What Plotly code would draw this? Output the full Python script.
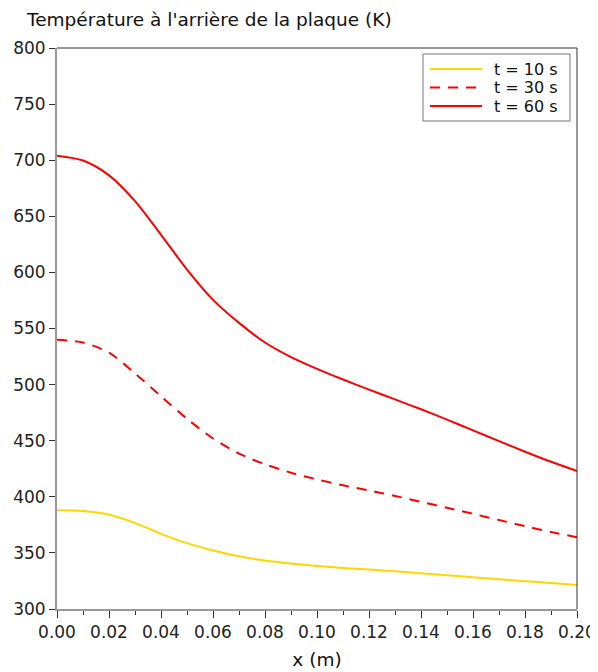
import plotly.graph_objects as go

x_m = [0.00, 0.01, 0.02, 0.03, 0.04, 0.05, 0.06, 0.07, 0.08, 0.09, 0.10,
       0.11, 0.12, 0.13, 0.14, 0.15, 0.16, 0.17, 0.18, 0.19, 0.20]
T_10s = [388, 387.3, 384, 376.8, 367, 358.7, 352.2, 347, 343.2, 340.5, 338.3,
         336.6, 335.1, 333.6, 331.8, 330, 328.2, 326.5, 324.8, 323.2, 321.5]
T_30s = [540, 537.5, 528.5, 510, 489.5, 469.5, 452, 438.5, 429, 421.5, 415.5,
         410.3, 405.6, 400.8, 395.5, 390.2, 384.8, 379.3, 373.8, 368.6, 364]
T_60s = [704, 699.7, 686.5, 663.5, 633.5, 602.5, 575.5, 555, 537.5, 524.5, 514,
         504.5, 495.5, 486.8, 478, 468.8, 459.2, 449.6, 440.2, 431.2, 423]

series_names = ["t = 10 s", "t = 30 s", "t = 60 s"]
series_colors = ["#FFD700", "#FF0000", "#FF0000"]
series_dash = ["solid", "10px,8px", "solid"]
x_ticks = [0.00, 0.02, 0.04, 0.06, 0.08, 0.10, 0.12, 0.14, 0.16, 0.18, 0.20]
y_ticks = [300, 350, 400, 450, 500, 550, 600, 650, 700, 750, 800]

FONT = "DejaVu Sans"
OFF = 8  # page body margin offset
W, H = 598 - OFF, 672 - OFF
ML, MR, MT, MB = 57 - OFF, 21, 48 - OFF, 63
PW, PH = W - ML - MR, H - MT - MB


def px(xp):
    return (xp - OFF - ML) / PW


def py(yp):
    return (H - MB - (yp - OFF)) / PH


fig = go.Figure()
for name, ys, col, dash in zip(series_names, [T_10s, T_30s, T_60s], series_colors, series_dash):
    fig.add_trace(go.Scatter(x=x_m, y=ys, mode="lines", name=name, showlegend=False,
                             line=dict(color=col, width=2, dash=dash, shape="spline", smoothing=0.8)))

shapes = [
    dict(type="line", xref="paper", yref="paper", x0=0, x1=1, y0=1, y1=1,
         line=dict(color="#333", width=1)),
    dict(type="line", xref="paper", yref="paper", x0=1, x1=1, y0=0, y1=1,
         line=dict(color="#333", width=1)),
    dict(type="rect", xref="paper", yref="paper", x0=px(423), x1=px(570), y0=py(121), y1=py(54),
         line=dict(color="#777", width=1), fillcolor="white", layer="above"),
]
annotations = []
rows = [69, 87.5, 106]
for name, col, dash, ry in zip(series_names, series_colors, series_dash, rows):
    shapes.append(dict(type="line", xref="paper", yref="paper", x0=px(430), x1=px(482),
                       y0=py(ry), y1=py(ry), layer="above",
                       line=dict(color=col, width=2, dash=dash)))
    annotations.append(dict(text=name, xref="paper", yref="paper", x=px(492), y=py(ry),
                            xanchor="left", yanchor="middle", showarrow=False,
                            font=dict(family=FONT, size=16, color="#111")))

fig.update_layout(
    width=W, height=H,
    margin=dict(l=ML, r=MR, t=MT, b=MB),
    paper_bgcolor="white", plot_bgcolor="white",
    font=dict(family=FONT, size=17, color="#222"),
    title=dict(text="Température à l'arrière de la plaque (K)", x=(27 - OFF) / W, xanchor="left",
               y=1 - (20 - OFF) / H, yanchor="middle", font=dict(family=FONT, size=18.5, color="#111")),
    showlegend=False,
    shapes=shapes,
    annotations=annotations,
)
fig.update_xaxes(
    range=[0, 0.2], tickvals=x_ticks, tickformat=".2f", automargin=False,
    showgrid=False, zeroline=False, showline=True, linecolor="#999", linewidth=2,
    ticks="outside", ticklen=7, tickcolor="#333",
    minor=dict(dtick=0.01, ticks="outside", ticklen=4, tickcolor="#333", showgrid=False),
    title=dict(text="x (m)", font=dict(family=FONT, size=18.5, color="#111"), standoff=12),
    tickfont=dict(family=FONT, size=17, color="#222"),
)
fig.update_yaxes(
    range=[300, 800], tickvals=y_ticks, automargin=False,
    showgrid=False, zeroline=False, showline=True, linecolor="#999", linewidth=2,
    ticks="outside", ticklen=6, tickcolor="#333",
    tickfont=dict(family=FONT, size=17, color="#222"),
)

fig.write_html("out.html")
